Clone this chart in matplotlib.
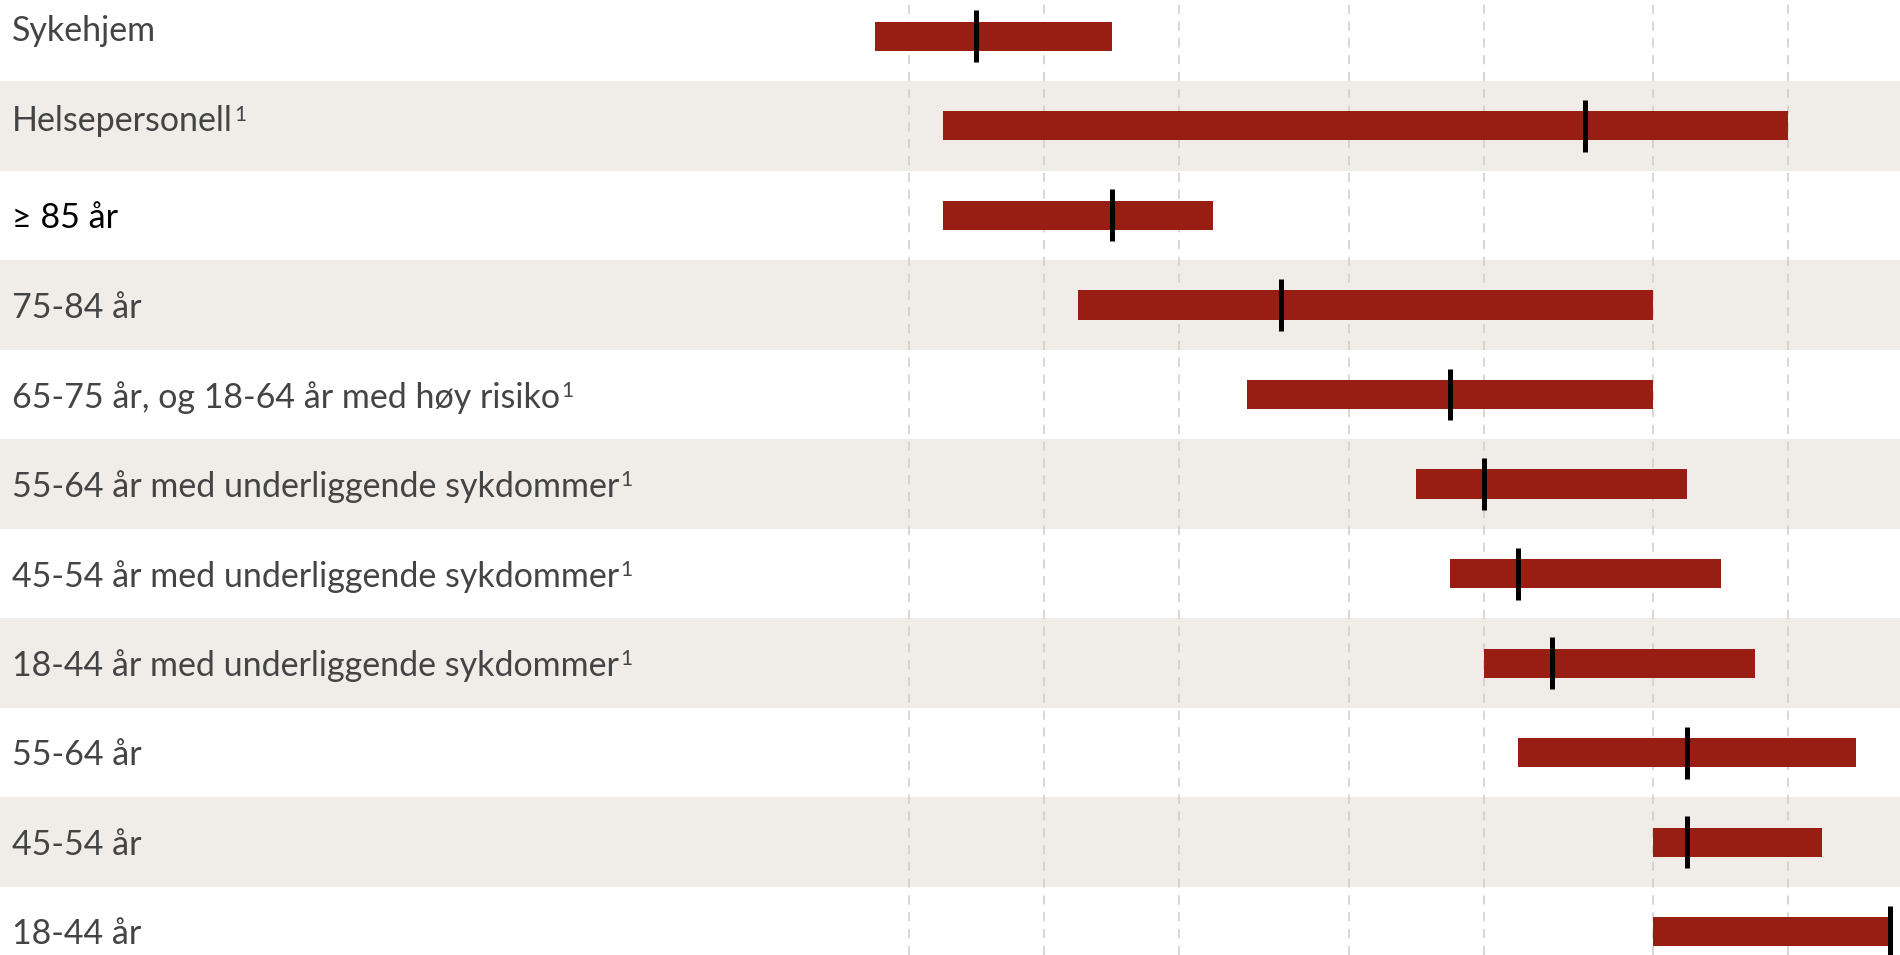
import matplotlib
matplotlib.use("Agg")
import matplotlib.pyplot as plt

categories = [
    "Sykehjem",
    "Helsepersonell",
    "≥ 85 år",
    "75-84 år",
    "65-75 år, og 18-64 år med høy risiko",
    "55-64 år med underliggende sykdommer",
    "45-54 år med underliggende sykdommer",
    "18-44 år med underliggende sykdommer",
    "55-64 år",
    "45-54 år",
    "18-44 år",
]
footnote = ["", "1", "", "", "1", "1", "1", "1", "", "", ""]
# weeks (relative to first gridline)
start_week = [-1, 1, 1, 5, 10, 15, 16, 17, 18, 22, 22]
end_week = [6, 26, 9, 22, 22, 23, 24, 25, 28, 27, 29]
median_week = [2, 20, 6, 11, 16, 17, 18, 19, 23, 23, 29]
grid_weeks = [0, 4, 8, 13, 17, 22, 26]

BAR = "#981E14"
BAND = "#F0EDE8"
GRID = "#D3CCC4"
TXT = "#444444"

fig = plt.figure(figsize=(19, 9.55), dpi=100)
ax = fig.add_axes([0, 0, 1, 1])
px_per_week = 27.92
xl = -748 / px_per_week
xr = (1568 - 748) / px_per_week
ax.set_xlim(xl - 0.07, xr - 0.07)
n = len(categories)
ax.set_ylim(10.26, -0.406)

for i in range(n):
    if i % 2 == 1:
        ax.axhspan(i - 0.5, i + 0.5, color=BAND, zorder=0, lw=0)

for g in grid_weeks:
    ax.axvline(g, color=GRID, lw=1.1, ls=(0, (6, 5)), zorder=1)

fam = ["Lato", "DejaVu Sans"]
for i in range(n):
    ax.barh(i, end_week[i] - start_week[i], left=start_week[i], height=0.325,
            color=BAR, zorder=2, lw=0)
    ax.plot([median_week[i], median_week[i]], [i - 0.29, i + 0.29],
            color="black", lw=3.6, zorder=3, solid_capstyle="butt")
    col = "black" if categories[i].startswith("≥") else TXT
    dy = -0.06 if i < 2 else 0.03
    t = ax.text(10 / 1568, i + dy, categories[i], va="center", ha="left",
                transform=ax.get_yaxis_transform(),
                fontsize=24.5, color=col, family=fam, zorder=4)
    if footnote[i]:
        ax.annotate(footnote[i], xy=(1, 1), xycoords=t, xytext=(1, 0),
                    textcoords="offset points", ha="left", va="top",
                    fontsize=15, color=col, family=fam, zorder=4)

ax.axis("off")
fig.savefig("out.png", dpi=100)
